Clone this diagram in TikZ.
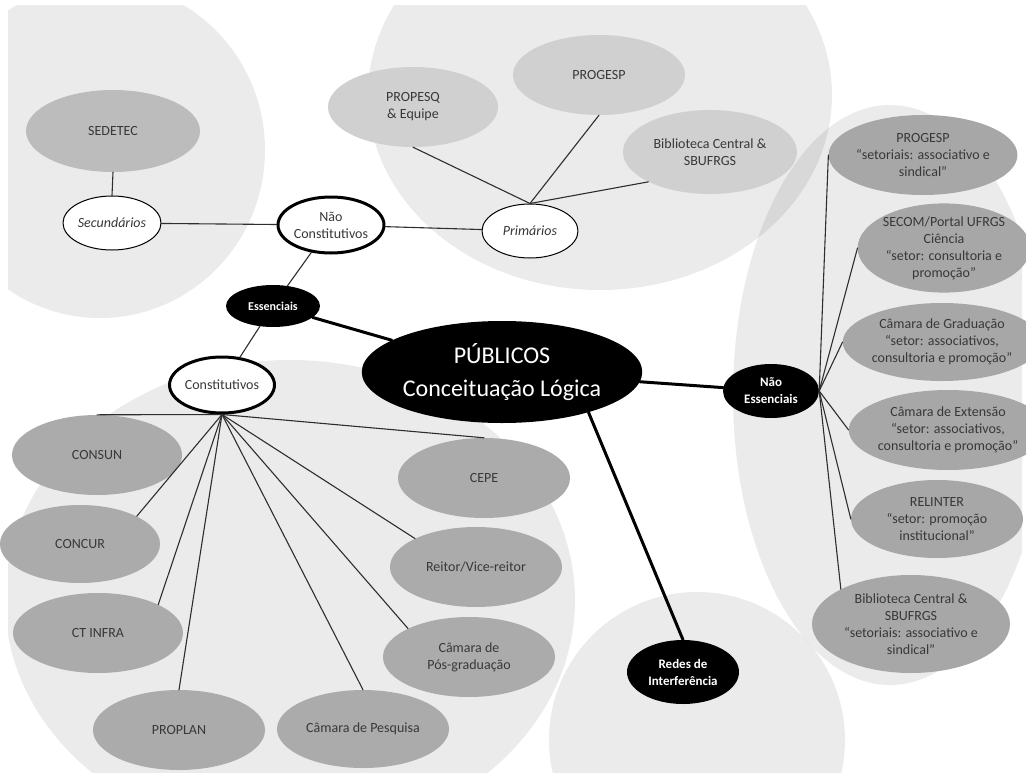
\documentclass[tikz,border=0pt]{standalone}
\usepackage{fontspec}
\setmainfont{Carlito}
\usepackage{tikz}
\usetikzlibrary{shapes.geometric}
\definecolor{topicgray}{HTML}{ABABAB}
\definecolor{palegray}{HTML}{D0D0D0}
\definecolor{sidegray}{HTML}{A7A7A7}
\definecolor{inkgray}{HTML}{383838}
\definecolor{linkgray}{HTML}{2E2E2E}
\newcommand{\leaffont}{\fontsize{14pt}{17pt}\selectfont}
\newcommand{\hubfont}{\fontsize{13pt}{17pt}\selectfont\bfseries}
\newcommand{\corefont}{\fontsize{24pt}{33pt}\selectfont}
\tikzset{
  every picture/.style={
    line join=round,
    line cap=round,
  },
  blob/.style={fill=black, fill opacity=0.08},
  oval/.style 2 args={minimum width=#1pt, minimum height=#2pt},
  core/.style={ellipse, fill=black, text=white, inner sep=0pt, align=center, font=\hubfont},
  ring/.style={ellipse, draw=black, fill=white, text=inkgray, inner sep=0pt, align=center, font=\leaffont},
  topic/.style={ellipse, fill=topicgray, text=inkgray, inner sep=0pt, align=center, font=\leaffont},
  link/.style={draw=linkgray, line width=1.1pt},
  trunk/.style={draw=black, line width=3pt},
}

\begin{document}
\begin{tikzpicture}[x=1pt,y=-1pt]
    \useasboundingbox (0,0) rectangle (1026,774);
    \fill[white] (0,0) rectangle (1026,774);
    % Background Areas
    \begin{scope}
        \clip (8,5) rectangle (1022,772);
        \fill[blob] (100,150) ellipse [x radius=165pt, y radius=168pt];
        \fill[blob] (600,95) ellipse [x radius=232pt, y radius=195pt];
        \fill[blob] (290,600) ellipse [x radius=285pt, y radius=240pt];
        \fill[blob] (890,395) ellipse [x radius=157pt, y radius=290pt];
        \fill[blob] (697,740) circle [radius=148pt];
    \end{scope}
    % Center
    \node[core, oval={234}{102}, font=\corefont] (publicos) at (502,372) {PÚBLICOS\\Conceituação Lógica};
    \node[core, oval={94}{42}, font=\fontsize{12pt}{15pt}\selectfont\bfseries] (essenciais) at (273,306) {Essenciais};
    \node[core, oval={96}{54}] (naoess) at (771,391) {Não\\Essenciais};
    \node[core, oval={112}{64}] (redes) at (683,672) {Redes de\\Interferência};
    % Essential Groups
    \node[ring, oval={106}{56}, line width=3pt] (naoconst) at (331,225) {Não\\Constitutivos};
    \node[ring, oval={100}{56}, line width=3pt] (constit) at (222,385) {Constitutivos};
    \node[ring, oval={98}{54}, line width=1pt, font=\leaffont\itshape] (secund) at (112,223) {Secundários};
    \node[ring, oval={96}{54}, line width=1pt, font=\leaffont\itshape] (primar) at (530,231) {Primários};
    % Top Topics
    \node[topic, oval={174}{82}, fill=topicgray!80] (sedetec) at (113,131) {SEDETEC};
    \node[topic, oval={170}{80}, fill=palegray] (propesq) at (413,107) {PROPESQ\\\& Equipe};
    \node[topic, oval={172}{80}, fill=palegray] (progesp) at (599,75) {PROGESP};
    \node[topic, oval={174}{84}, fill=palegray] (biblio) at (710,152) {Biblioteca Central \&\\SBUFRGS};
    % Bottom Topics
    \node[topic, oval={170}{80}] (consun) at (97,455) {CONSUN};
    \node[topic, oval={160}{78}] (concur) at (80,544) {CONCUR};
    \node[topic, oval={170}{80}] (ctinfra) at (98,633) {CT INFRA};
    \node[topic, oval={172}{80}] (proplan) at (179,730) {PROPLAN};
    \node[topic, oval={172}{78}] (pesquisa) at (363,729) {Câmara de Pesquisa};
    \node[topic, oval={172}{80}] (posgrad) at (469,657) {Câmara de\\Pós-graduação};
    \node[topic, oval={172}{80}] (reitor) at (476,567) {Reitor/Vice-reitor};
    \node[topic, oval={172}{80}] (cepe) at (484,478) {CEPE};
    % Right Topics
    \node[topic, oval={174}{80}, fill=sidegray] (rprogesp) at (923,155) {PROGESP\\“setoriais: associativo e\\sindical”};
    \node[topic, oval={166}{88}, fill=sidegray] (secom) at (944,248) {SECOM/Portal UFRGS\\Ciência\\“setor: consultoria e\\promoção”};
    \node[topic, oval={166}{78}, fill=sidegray] (graduacao) at (942,342) {Câmara de Graduação\\“setor: associativos,\\consultoria e promoção”};
    \node[topic, oval={162}{80}, fill=sidegray] (extensao) at (948,430) {Câmara de Extensão\\“setor: associativos,\\consultoria e promoção”};
    \node[topic, oval={172}{78}, fill=sidegray] (relinter) at (937,519) {RELINTER\\“setor: promoção\\institucional”};
    \node[topic, oval={198}{98}, fill=sidegray] (rbiblio) at (911,624) {Biblioteca Central \&\\SBUFRGS\\“setoriais: associativo e\\sindical”};
    % Main Links
    \draw[trunk] (essenciais) -- (publicos);
    \draw[trunk] (publicos) -- (naoess);
    \draw[trunk] (publicos.-25) -- (redes.north);
    % Upper Links
    \draw[link] (naoconst) -- (essenciais);
    \draw[link] (essenciais) -- (constit);
    \draw[link] (secund) -- (naoconst);
    \draw[link] (naoconst) -- (primar);
    \draw[link] (secund.north) -- (sedetec.south);
    \draw[link] (primar.north) -- (propesq.south);
    \draw[link] (primar.north) -- (progesp.south);
    \draw[link] (primar.north) -- (biblio.south west);
    % Lower Links
    \draw[link] (constit.south) -- (consun.north);
    \draw[link] (constit.south) -- (concur.north east);
    \draw[link] (constit.south) -- (ctinfra.north east);
    \draw[link] (constit.south) -- (proplan.north);
    \draw[link] (constit.south) -- (pesquisa.north);
    \draw[link] (constit.south) -- (posgrad.north west);
    \draw[link] (constit.south) -- (reitor.north west);
    \draw[link] (constit.south) -- (cepe.north);
    % Right Links
    \foreach \n in {rprogesp,secom,graduacao,extensao,relinter}
        \draw[link] (naoess.east) -- (\n.west);
    \draw[link] (naoess.east) -- (rbiblio.north west);
\end{tikzpicture}
\end{document}
